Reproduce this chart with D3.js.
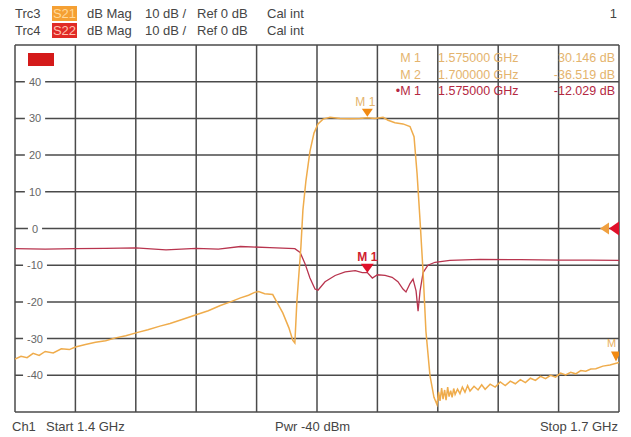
<!DOCTYPE html>
<html>
<head>
<meta charset="utf-8">
<script src="https://cdn.jsdelivr.net/npm/d3@7"></script>
<style>
  body { margin: 0; background: #fff; }
  svg { display: block; font-family: "Liberation Sans", Arial, sans-serif; }
</style>
</head>
<body>
<svg id="chart" width="631" height="437"></svg>
<script>
// frequency grid (GHz) and level grid (dB)
const xTicks = [1.40, 1.43, 1.46, 1.49, 1.52, 1.55, 1.58, 1.61, 1.64, 1.67, 1.70];
const yTicks = [-50, -40, -30, -20, -10, 0, 10, 20, 30, 40, 50];
const yLabels = [-40, -30, -20, -10, 0, 10, 20, 30, 40];

// Trc3 : S21
const s21Freq = [1.4000, 1.4030, 1.4060, 1.4090, 1.4120, 1.4150, 1.4190, 1.4230, 1.4270, 1.4300,
  1.4350, 1.4400, 1.4450, 1.4500, 1.4550, 1.4610, 1.4660, 1.4720, 1.4770, 1.4830,
  1.4900, 1.4960, 1.5020, 1.5070, 1.5120, 1.5160, 1.5190, 1.5210, 1.5240, 1.5280,
  1.5300, 1.5330, 1.5360, 1.5380, 1.5390, 1.5400, 1.5420, 1.5430, 1.5445, 1.5465,
  1.5485, 1.5505, 1.5530, 1.5565, 1.5614, 1.5664, 1.5713, 1.5750, 1.5788, 1.5828,
  1.5853, 1.5887, 1.5927, 1.5962, 1.5982, 1.5997, 1.6012, 1.6027, 1.6041, 1.6061,
  1.6081, 1.6096, 1.6104, 1.6111, 1.6119, 1.6126, 1.6134, 1.6141, 1.6149, 1.6156,
  1.6164, 1.6171, 1.6179, 1.6186, 1.6198, 1.6210, 1.6222, 1.6235, 1.6248, 1.6260,
  1.6280, 1.6300, 1.6318, 1.6335, 1.6360, 1.6385, 1.6410, 1.6435, 1.6460, 1.6485,
  1.6510, 1.6535, 1.6560, 1.6585, 1.6610, 1.6635, 1.6660, 1.6685, 1.6710, 1.6735,
  1.6760, 1.6785, 1.6810, 1.6835, 1.6860, 1.6885, 1.6920, 1.6955, 1.7000];
const s21dB = [-35.6, -34.8, -35.2, -34.0, -34.6, -33.5, -33.9, -32.8, -33.0, -32.3,
  -31.6, -31.0, -30.6, -29.8, -29.2, -28.3, -27.6, -26.6, -25.9, -24.8,
  -23.5, -22.4, -21.0, -20.0, -18.9, -18.2, -17.4, -17.2, -17.8, -18.0,
  -20.0, -23.0, -27.0, -30.5, -31.2, -20.0, -5.0, 5.0, 13.0, 21.0,
  26.0, 28.5, 29.8, 30.3, 30.0, 29.9, 30.0, 30.146, 30.0, 30.3,
  29.5, 28.8, 28.5, 27.8, 25.0, 15.0, 2.0, -12.0, -28.0, -40.0,
  -46.0, -48.0, -44.5, -47.0, -43.5, -46.5, -44.0, -46.8, -43.2, -45.8,
  -44.2, -46.0, -43.6, -45.2, -43.8, -45.0, -43.2, -44.6, -42.8, -44.3,
  -43.0, -44.0, -42.6, -43.8, -42.4, -43.2, -41.8, -42.8, -41.6, -42.3,
  -41.2, -42.0, -40.8, -41.4, -40.3, -40.9, -40.0, -40.5, -39.4, -39.9,
  -39.2, -39.6, -38.7, -38.9, -38.3, -38.2, -37.5, -37.2, -36.519];

// Trc4 : S22
const s22Freq = [1.4000, 1.4150, 1.4300, 1.4450, 1.4600, 1.4750, 1.4900, 1.5010, 1.5120, 1.5266,
  1.5390, 1.5416, 1.5440, 1.5465, 1.5490, 1.5505, 1.5540, 1.5590, 1.5640, 1.5690,
  1.5725, 1.5750, 1.5775, 1.5800, 1.5838, 1.5873, 1.5902, 1.5927, 1.5942, 1.5962,
  1.5977, 1.5992, 1.6002, 1.6012, 1.6027, 1.6051, 1.6086, 1.6160, 1.6310, 1.6510,
  1.6707, 1.6856, 1.7000];
const s22dB = [-5.5, -5.6, -5.5, -5.4, -5.3, -5.8, -5.4, -5.6, -4.9, -5.2,
  -5.5, -6.5, -9.5, -13.5, -16.5, -16.8, -14.5, -12.8, -11.8, -11.5,
  -12.0, -12.029, -13.5, -12.6, -12.8, -13.3, -14.5, -16.5, -17.3, -15.0,
  -13.8, -17.0, -22.5, -17.0, -12.0, -10.0, -9.2, -8.7, -8.4, -8.5,
  -8.6, -8.6, -8.7];

// marker readouts
const markerRows = [
  { name: "M 1", freq: "1.575000 GHz", val: "30.146 dB", trc: "s21" },
  { name: "M 2", freq: "1.700000 GHz", val: "-36.519 dB", trc: "s21" },
  { name: "\u2022M 1", freq: "1.575000 GHz", val: "-12.029 dB", trc: "s22" }
];

const col = { s21: "#efac4c", s21txt: "#e4b46e", s22: "#b8344e", s22txt: "#b42842", grid: "#4a4a4a", txt: "#454545" };

const svg = d3.select("#chart");
const x = d3.scaleLinear().domain([1.4, 1.7]).range([15, 619]);
const y = d3.scaleLinear().domain([-50, 50]).range([412, 45]);

// header
const hdr = svg.append("g").attr("font-size", 13).attr("fill", col.txt);
[["Trc3", "S21", "#f5a033", "#ffd99a", 18], ["Trc4", "S22", "#e02a26", "#ffc0b0", 35]].forEach(r => {
  hdr.append("text").attr("x", 15).attr("y", r[4]).text(r[0]);
  hdr.append("rect").attr("x", 52).attr("y", r[4] - 12).attr("width", 25).attr("height", 15).attr("fill", r[2]);
  hdr.append("text").attr("x", 64.5).attr("y", r[4]).attr("text-anchor", "middle").attr("fill", r[3]).text(r[1]);
  hdr.append("text").attr("x", 87).attr("y", r[4]).text("dB Mag");
  hdr.append("text").attr("x", 145).attr("y", r[4]).text("10 dB /");
  hdr.append("text").attr("x", 197).attr("y", r[4]).text("Ref 0 dB");
  hdr.append("text").attr("x", 267).attr("y", r[4]).text("Cal int");
});
hdr.append("text").attr("x", 617).attr("y", 18).attr("text-anchor", "end").text("1");

// grid
const grid = svg.append("g").attr("stroke", col.grid).attr("stroke-width", 1.5);
grid.selectAll("line.v").data(xTicks).join("line").attr("class", "v")
  .attr("x1", d => x(d)).attr("x2", d => x(d)).attr("y1", y(50)).attr("y2", y(-50));
grid.selectAll("line.h").data(yTicks).join("line").attr("class", "h")
  .attr("x1", x(1.4)).attr("x2", x(1.7)).attr("y1", d => y(d)).attr("y2", d => y(d));

// y labels sitting on the grid lines
const yl = svg.append("g").attr("font-size", 11).attr("fill", "#666");
yLabels.forEach(v => {
  const t = yl.append("text").attr("x", 35).attr("y", y(v) + 4).attr("text-anchor", "middle").text(v);
  const w = t.node().getComputedTextLength();
  yl.insert("rect", "text").attr("x", 35 - w / 2 - 4).attr("y", y(v) - 5).attr("width", w + 8).attr("height", 10).attr("fill", "#fff");
});

// red trace tag top-left
svg.append("rect").attr("x", 28).attr("y", 53).attr("width", 26).attr("height", 13).attr("fill", "#d41a1a");

// marker table
const mt = svg.append("g").attr("font-size", 12.5);
markerRows.forEach((r, i) => {
  const yy = 62 + i * 16.5;
  const c = r.trc === "s21" ? col.s21txt : col.s22txt;
  mt.append("text").attr("x", 421).attr("y", yy).attr("text-anchor", "end").attr("fill", c).text(r.name);
  mt.append("text").attr("x", 438).attr("y", yy).attr("fill", c).text(r.freq);
  mt.append("text").attr("x", 615).attr("y", yy).attr("text-anchor", "end").attr("fill", c).text(r.val);
});

// traces
svg.append("clipPath").attr("id", "clip").append("rect")
  .attr("x", 15).attr("y", 45).attr("width", 604).attr("height", 367);
const plot = svg.append("g").attr("clip-path", "url(#clip)");
const line = d3.line().x(d => x(d[0])).y(d => y(d[1]));
plot.append("path").datum(d3.zip(s22Freq, s22dB)).attr("d", line)
  .attr("fill", "none").attr("stroke", col.s22).attr("stroke-width", 1.3);
plot.append("path").datum(d3.zip(s21Freq, s21dB)).attr("d", line)
  .attr("fill", "none").attr("stroke", col.s21).attr("stroke-width", 1.5);

// markers
function downTri(g, cx, tipY, w, h, fill) {
  g.append("path").attr("d", `M${cx - w / 2},${tipY - h}L${cx + w / 2},${tipY - h}L${cx},${tipY}Z`).attr("fill", fill);
}
const mk = plot.append("g");
downTri(mk, x(1.575), y(30.146) - 1, 11, 8, "#f28a12");
mk.append("text").attr("x", x(1.575) - 2).attr("y", y(30.146) - 12).attr("text-anchor", "middle")
  .attr("font-size", 12).attr("fill", col.s21txt).text("M 1");
downTri(mk, x(1.575), y(-12.029), 13, 9, "#e0102a");
mk.append("text").attr("x", x(1.575)).attr("y", y(-12.029) - 12).attr("text-anchor", "middle")
  .attr("font-size", 12).attr("font-weight", "bold").attr("fill", "#d0202e").text("M 1");
downTri(mk, x(1.7) - 3, y(-36.519) - 1, 10, 10, "#f28a12");
mk.append("text").attr("x", x(1.7) - 12).attr("y", y(-36.519) - 16).attr("font-size", 11)
  .attr("fill", "#e8b060").text("M 2");

// reference level arrows at 0 dB
const ry = y(0);
mk.append("path").attr("d", `M${x(1.7) - 19},${ry}L${x(1.7) - 10},${ry - 6}L${x(1.7) - 10},${ry + 6}Z`).attr("fill", "#f0a040");
mk.append("path").attr("d", `M${x(1.7) - 10},${ry}L${x(1.7)},${ry - 7}L${x(1.7)},${ry + 7}Z`).attr("fill", "#e0102a");

// footer
const ft = svg.append("g").attr("font-size", 13).attr("fill", col.txt);
ft.append("text").attr("x", 12).attr("y", 431).text("Ch1");
ft.append("text").attr("x", 46).attr("y", 431).text("Start  1.4 GHz");
ft.append("text").attr("x", 275).attr("y", 431).text("Pwr -40 dBm");
ft.append("text").attr("x", 618).attr("y", 431).attr("text-anchor", "end").text("Stop  1.7 GHz");
</script>
</body>
</html>
